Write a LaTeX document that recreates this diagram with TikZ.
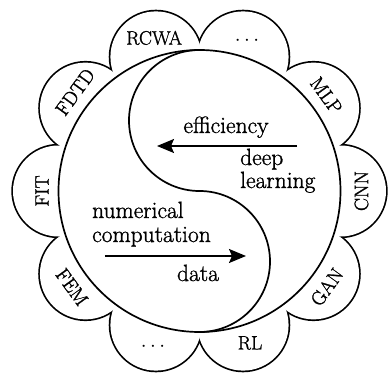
\documentclass[tikz,border=0pt]{standalone}
\usepackage{fontspec}
\setmainfont{Latin Modern Roman}[FakeBold=1.2]
\usetikzlibrary{arrows.meta}
\begin{document}
\begin{tikzpicture}[x=1pt,y=1pt,
  lw/.style={line width=1.7pt},
  petallbl/.style={font=\fontsize{19.5}{22}\selectfont, inner sep=0pt, text height=13.3pt, text depth=0pt, anchor=center},
  bigtxt/.style={font=\fontsize{23.5}{26}\selectfont, inner sep=0pt},
  arr/.style={lw, -{Stealth[length=17pt,width=14pt,inset=3pt]}}]
\useasboundingbox (-199.5,-184) rectangle (188.5,191);
\def\R{141}
\def\r{45.5}
% petals: union outline
\foreach \a in {108,72,36,0,-36,-72,-108,-144,180,144}{
  \draw[line width=3.4pt] (\a:\R) circle[radius=\r];
}
\foreach \a in {108,72,36,0,-36,-72,-108,-144,180,144}{
  \fill[white] (\a:\R) circle[radius=\r];
}
% main circle
\draw[lw, fill=white] (0,0) circle[radius=\R];
% S curve
\draw[lw] (0,\R) arc[start angle=90, end angle=270, radius=70.5]
          arc[start angle=90, end angle=-90, radius=70.5];
% petal labels
\node[petallbl] (rcwa) at (106.5:159.6) {RCWA};
\node[petallbl] (dotsA) at (72.6:159) {$\cdots$};
\node[petallbl, rotate=-54] (mlp) at (37:158.8) {MLP};
\node[petallbl, rotate=90] (cnn) at (0:162) {CNN};
\node[petallbl, rotate=54] (gan) at (-37:159.6) {GAN};
\node[petallbl] (rl) at (-71.6:160) {RL};
\node[petallbl] (dotsB) at (-106.8:161) {$\cdots$};
\node[petallbl, rotate=-54] (fem) at (-143:159.6) {FEM};
\node[petallbl, rotate=90] (fit) at (180:157.5) {FIT};
\node[petallbl, rotate=54] (fdtd) at (141.5:159) {FDTD};
% arrows
\coordinate (t1) at (97.5,45);
\coordinate (t2) at (-42.5,45);
\draw[arr] (t1) -- (t2);
\coordinate (b1) at (-94.5,-65);
\coordinate (b2) at (46.5,-65);
\draw[arr] (b1) -- (b2);
% texts
\node[bigtxt, anchor=base] (eff) at (26.5,58) {efficiency};
\node[bigtxt, anchor=base west] (deep) at (40.5,26) {deep};
\node[bigtxt, anchor=base west] (learn) at (40.5,3) {learning};
\node[bigtxt, anchor=base west] (num) at (-107.5,-27) {numerical};
\node[bigtxt, anchor=base west] (comp) at (-107.5,-51) {computation};
\node[bigtxt, anchor=base] (data) at (-1.5,-90) {data};
\end{tikzpicture}
\end{document}
